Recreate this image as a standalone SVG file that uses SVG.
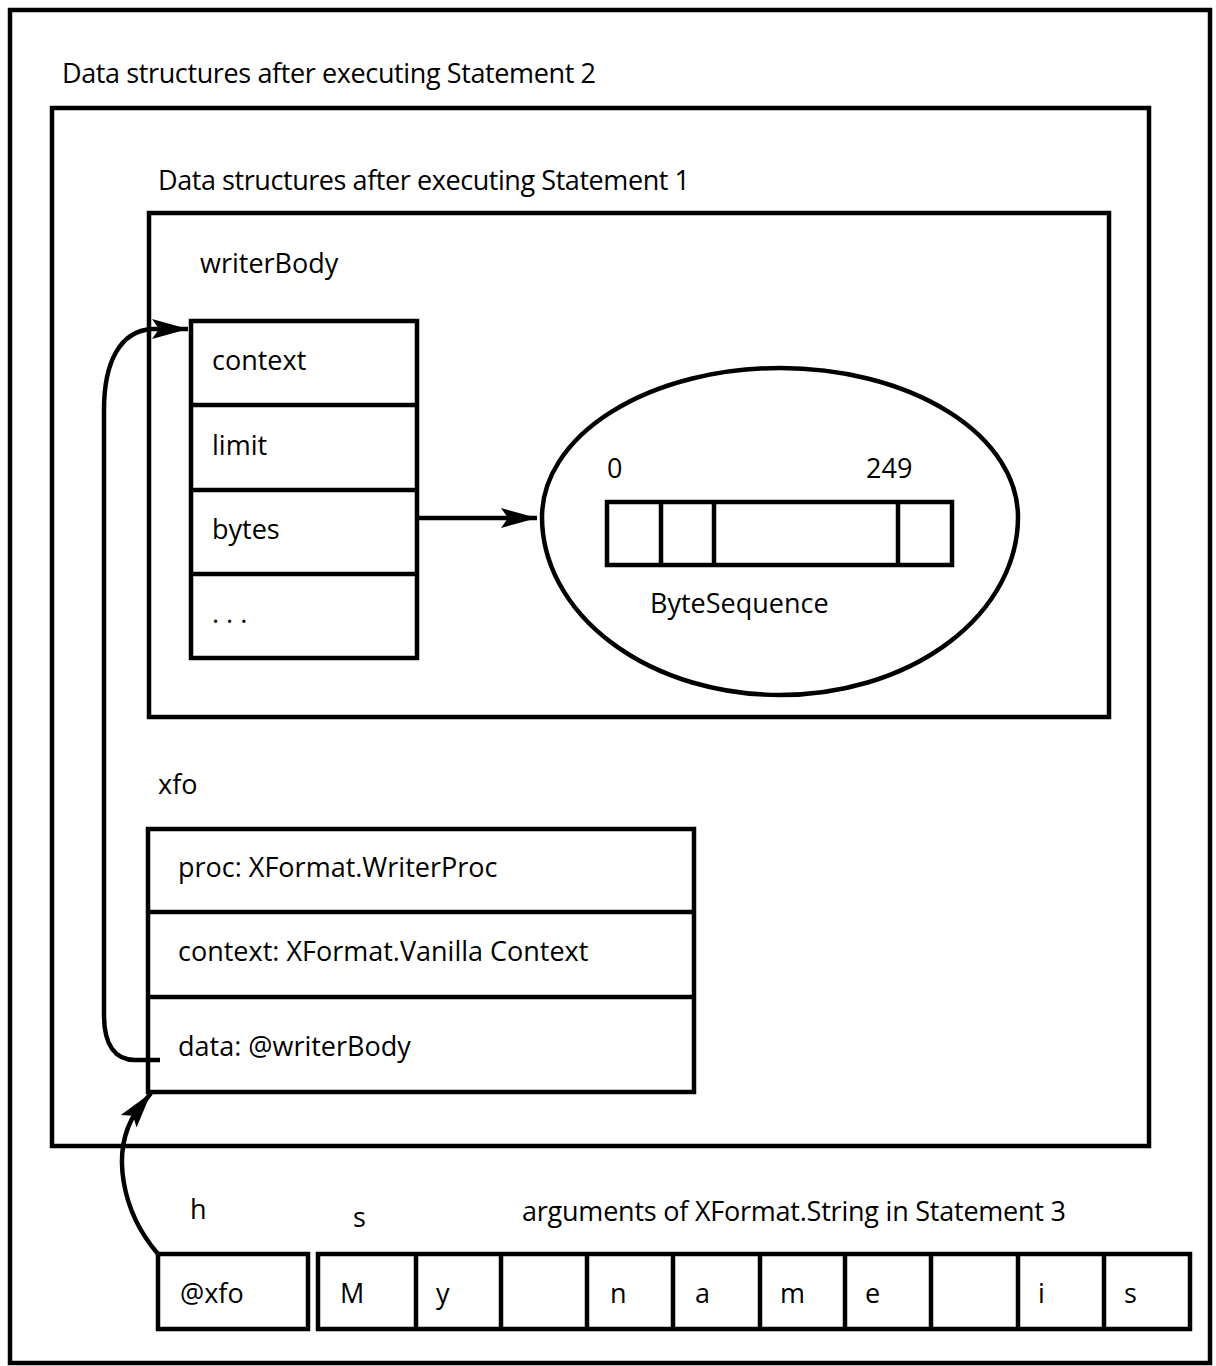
<svg xmlns="http://www.w3.org/2000/svg" width="1216" height="1366" viewBox="0 0 1216 1366">
  <style>
    .box { fill: none; stroke: #000; stroke-width: 4.5; }
    .cell { fill: #fff; stroke: #000; stroke-width: 4.5; }
    .div { stroke: #000; stroke-width: 4.5; }
    .wire { fill: none; stroke: #000; stroke-width: 4.5; }
    text { font-family: "Open Sans", "Noto Sans", "Liberation Sans", sans-serif; font-size: 27px; fill: #000; }
  </style>
  <defs>
    <marker id="arrow" markerUnits="userSpaceOnUse" markerWidth="38" markerHeight="24" refX="36" refY="11" orient="auto">
      <path d="M0,1 L36,11 L0,21 L7,11 z" fill="#000"/>
    </marker>
  </defs>

  <rect width="1216" height="1366" fill="#fff"/>

  <!-- scope frames -->
  <g id="scope-statement2">
    <rect class="box" x="10" y="10" width="1200" height="1353"/>
    <text x="62" y="83" textLength="534">Data structures after executing Statement 2</text>
  </g>
  <g id="scope-statement1-outer">
    <rect class="box" x="52" y="108" width="1097" height="1038"/>
    <text x="158" y="190" textLength="532">Data structures after executing Statement 1</text>
  </g>
  <g id="scope-statement1-inner">
    <rect class="box" x="149" y="213" width="960" height="504"/>
  </g>

  <!-- writerBody record -->
  <g id="writerBody">
    <text x="200" y="273">writerBody</text>
    <rect class="cell" x="191" y="321" width="226" height="337"/>
    <line class="div" x1="191" y1="405" x2="417" y2="405"/>
    <line class="div" x1="191" y1="490" x2="417" y2="490"/>
    <line class="div" x1="191" y1="574" x2="417" y2="574"/>
    <text x="212" y="370">context</text>
    <text x="212" y="455">limit</text>
    <text x="212" y="539">bytes</text>
    <text x="212" y="623">. . .</text>
  </g>

  <!-- ByteSequence -->
  <g id="byteSequence">
    <path class="box" d="M542,517 A238,149 0 0 1 1018,517 A238,178 0 0 1 542,517 Z"/>
    <text x="607" y="478">0</text>
    <text x="866" y="478">249</text>
    <rect class="cell" x="607" y="502" width="345" height="63"/>
    <line class="div" x1="661" y1="502" x2="661" y2="565"/>
    <line class="div" x1="714" y1="502" x2="714" y2="565"/>
    <line class="div" x1="898" y1="502" x2="898" y2="565"/>
    <text x="650" y="613">ByteSequence</text>
  </g>

  <!-- xfo record -->
  <g id="xfo">
    <text x="158" y="794">xfo</text>
    <rect class="cell" x="148" y="829" width="546" height="263"/>
    <line class="div" x1="148" y1="912" x2="694" y2="912"/>
    <line class="div" x1="148" y1="997" x2="694" y2="997"/>
    <text x="178" y="877">proc: XFormat.WriterProc</text>
    <text x="178" y="961">context: XFormat.Vanilla Context</text>
    <text x="178" y="1056">data: @writerBody</text>
  </g>

  <!-- arguments of XFormat.String -->
  <g id="arg-h">
    <text x="190" y="1219">h</text>
    <rect class="cell" x="158" y="1254" width="150" height="75"/>
    <text x="180" y="1303">@xfo</text>
  </g>
  <g id="arg-s">
    <text x="353" y="1227">s</text>
    <text x="522" y="1221" textLength="544">arguments of XFormat.String in Statement 3</text>
    <rect class="cell" x="318" y="1254" width="872" height="75"/>
    <line class="div" x1="416" y1="1254" x2="416" y2="1329"/>
    <line class="div" x1="501" y1="1254" x2="501" y2="1329"/>
    <line class="div" x1="587" y1="1254" x2="587" y2="1329"/>
    <line class="div" x1="673" y1="1254" x2="673" y2="1329"/>
    <line class="div" x1="760" y1="1254" x2="760" y2="1329"/>
    <line class="div" x1="845" y1="1254" x2="845" y2="1329"/>
    <line class="div" x1="931" y1="1254" x2="931" y2="1329"/>
    <line class="div" x1="1018" y1="1254" x2="1018" y2="1329"/>
    <line class="div" x1="1104" y1="1254" x2="1104" y2="1329"/>
    <text x="340" y="1303">M</text>
    <text x="436" y="1303">y</text>
    <text x="610" y="1303">n</text>
    <text x="695" y="1303">a</text>
    <text x="780" y="1303">m</text>
    <text x="865" y="1303">e</text>
    <text x="1038" y="1303">i</text>
    <text x="1124" y="1303">s</text>
  </g>

  <!-- pointers -->
  <g id="connectors">
    <path class="wire" d="M160,1060 L135,1060 C116,1060 104,1046 104,1015 L104,410 C104,362 120,331 152,329 L188,329" marker-end="url(#arrow)"/>
    <path class="wire" d="M417,518 L537,518" marker-end="url(#arrow)"/>
    <path class="wire" d="M158,1254 C122,1212 110,1152 136,1112 L151,1093" marker-end="url(#arrow)"/>
  </g>
</svg>
